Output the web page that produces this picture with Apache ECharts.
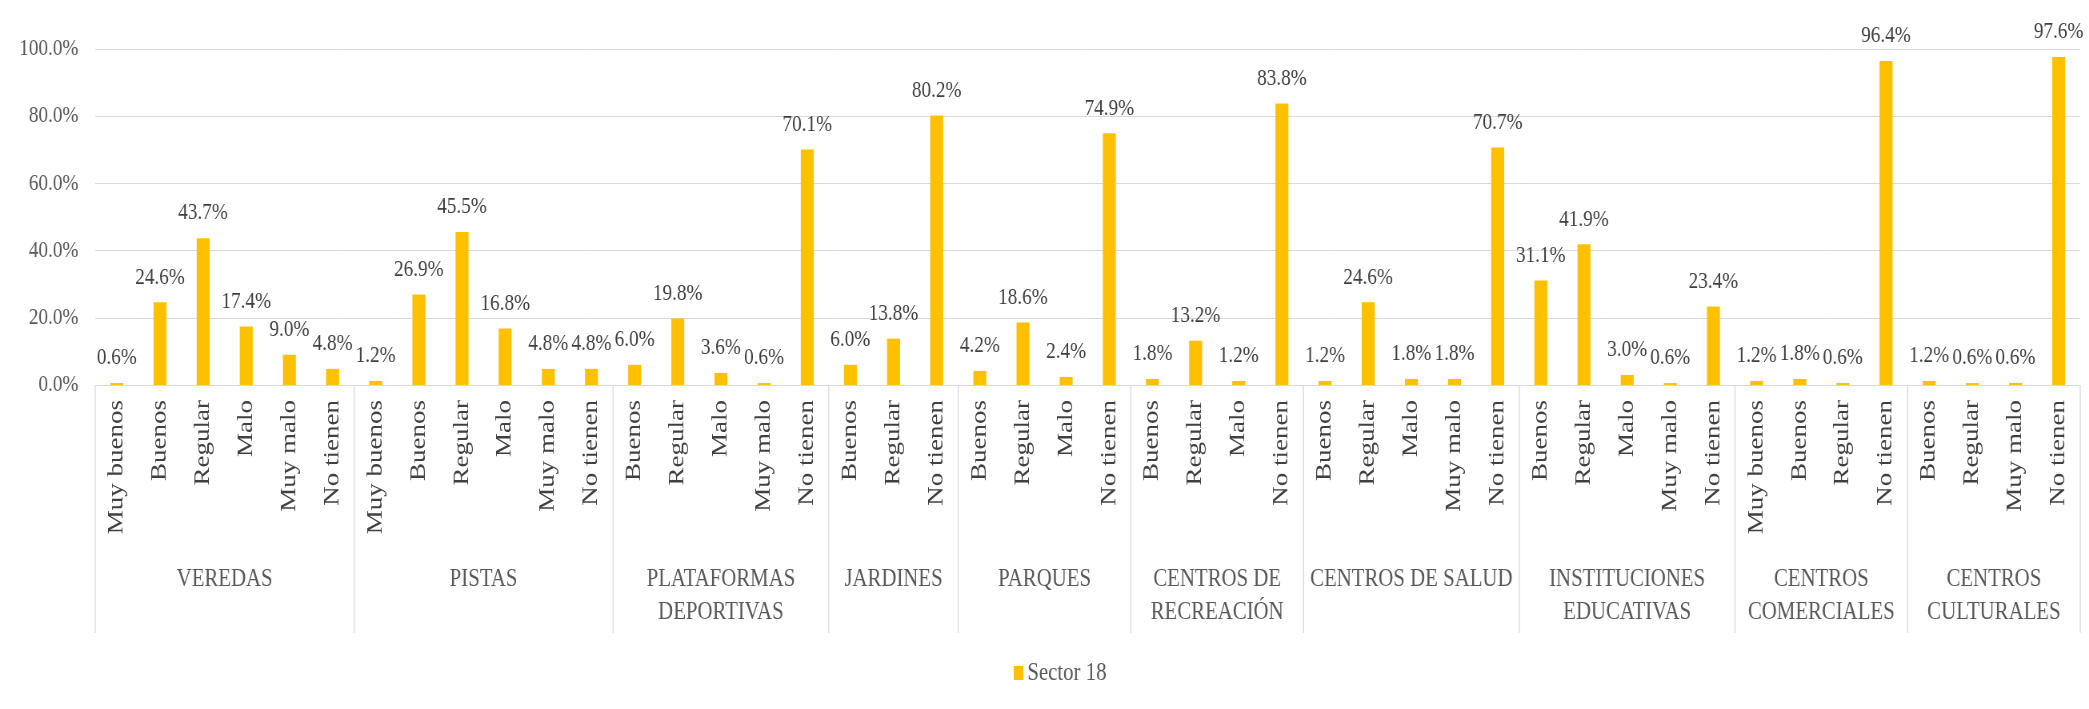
<!DOCTYPE html>
<html>
<head>
<meta charset="utf-8">
<script src="https://cdn.jsdelivr.net/npm/echarts@6/dist/echarts.min.js"></script>
<style>
html,body{margin:0;padding:0;background:#fff;overflow:hidden;}
#wrap{width:2089px;height:709px;overflow:hidden;position:relative;}
#chart{width:2611px;height:709px;transform:scaleX(0.80008);transform-origin:0 0;}
</style>
</head>
<body>
<div id="wrap"><div id="chart"></div></div>
<script>
// ---- data ----
const groupNames = ['VEREDAS','PISTAS','PLATAFORMAS\nDEPORTIVAS','JARDINES','PARQUES','CENTROS DE\nRECREACIÓN','CENTROS DE SALUD','INSTITUCIONES\nEDUCATIVAS','CENTROS\nCOMERCIALES','CENTROS\nCULTURALES'];
const veredasCats = ['Muy buenos','Buenos','Regular','Malo','Muy malo','No tienen'];
const veredasVals = [0.6,24.6,43.7,17.4,9.0,4.8];
const pistasCats = ['Muy buenos','Buenos','Regular','Malo','Muy malo','No tienen'];
const pistasVals = [1.2,26.9,45.5,16.8,4.8,4.8];
const plataformasCats = ['Buenos','Regular','Malo','Muy malo','No tienen'];
const plataformasVals = [6.0,19.8,3.6,0.6,70.1];
const jardinesCats = ['Buenos','Regular','No tienen'];
const jardinesVals = [6.0,13.8,80.2];
const parquesCats = ['Buenos','Regular','Malo','No tienen'];
const parquesVals = [4.2,18.6,2.4,74.9];
const recreacionCats = ['Buenos','Regular','Malo','No tienen'];
const recreacionVals = [1.8,13.2,1.2,83.8];
const saludCats = ['Buenos','Regular','Malo','Muy malo','No tienen'];
const saludVals = [1.2,24.6,1.8,1.8,70.7];
const educativasCats = ['Buenos','Regular','Malo','Muy malo','No tienen'];
const educativasVals = [31.1,41.9,3.0,0.6,23.4];
const comercialesCats = ['Muy buenos','Buenos','Regular','No tienen'];
const comercialesVals = [1.2,1.8,0.6,96.4];
const culturalesCats = ['Buenos','Regular','Muy malo','No tienen'];
const culturalesVals = [1.2,0.6,0.6,97.6];
const yTicks = [0,20,40,60,80,100];
const seriesName = 'Sector 18';

// ---- build ----
const catGroups = [veredasCats,pistasCats,plataformasCats,jardinesCats,parquesCats,recreacionCats,saludCats,educativasCats,comercialesCats,culturalesCats];
const valGroups = [veredasVals,pistasVals,plataformasVals,jardinesVals,parquesVals,recreacionVals,saludVals,educativasVals,comercialesVals,culturalesVals];
const categories = [].concat(...catGroups);
const values = [].concat(...valGroups);
const groupData = [];
let start = 0;
catGroups.forEach((c,i)=>{ groupData.push([start, c.length]); start += c.length; });
const lastGroup = groupData.length - 1;

const chart = echarts.init(document.getElementById('chart'), null, {renderer:'canvas'});
const serif = '"Liberation Serif","Times New Roman",serif';
chart.setOption({
  animation:false,
  backgroundColor:'#ffffff',
  textStyle:{fontFamily:serif},
  grid:{left:119,right:11,top:49,bottom:324,containLabel:false},
  legend:{
    data:[seriesName],
    left:1262, top:655,
    itemWidth:12,itemHeight:14,itemGap:4,
    icon:'rect',
    textStyle:{fontFamily:serif,fontSize:26,color:'#595959'}
  },
  xAxis:{
    type:'category',
    data:categories,
    axisLine:{lineStyle:{color:'#d9d9d9',width:1}},
    axisTick:{show:false},
    axisLabel:{interval:0,rotate:90,margin:15,fontFamily:serif,fontSize:27,color:'#404040'}
  },
  yAxis:{
    type:'value',min:yTicks[0],max:yTicks[yTicks.length-1],interval:20,
    axisLine:{show:false},axisTick:{show:false},
    splitLine:{lineStyle:{color:'#d9d9d9',width:1}},
    axisLabel:{margin:21,fontFamily:serif,fontSize:24,color:'#595959',formatter:v=>v.toFixed(1)+'%'}
  },
  series:[
    {
      name:seriesName,type:'bar',data:values,barWidth:'30%',
      itemStyle:{color:'#FFC000'},
      label:{show:true,position:'top',distance:13,fontFamily:serif,fontSize:24,color:'#404040',formatter:p=>p.value.toFixed(1)+'%'}
    },
    {
      name:'groups',type:'custom',data:groupData,silent:true,
      renderItem:function(params,api){
        const s = api.value(0), n = api.value(1);
        const bw = api.size([1,0])[0];
        const p = api.coord([s,0]);
        const xL = p[0]-bw/2, xR = xL+n*bw, y0 = p[1];
        const children = [
          {type:'line',shape:{x1:xL,y1:y0,x2:xL,y2:y0+248},style:{stroke:'#d9d9d9',lineWidth:1.25}},
          {type:'text',x:(xL+xR)/2,y:y0+178,style:{text:groupNames[params.dataIndex],fill:'#595959',font:'26px '+serif,align:'center',verticalAlign:'top',lineHeight:33}}
        ];
        if(params.dataIndex===lastGroup){
          children.push({type:'line',shape:{x1:xR,y1:y0,x2:xR,y2:y0+248},style:{stroke:'#d9d9d9',lineWidth:1.25}});
        }
        return {type:'group',children:children};
      }
    }
  ]
});
</script>
</body>
</html>
